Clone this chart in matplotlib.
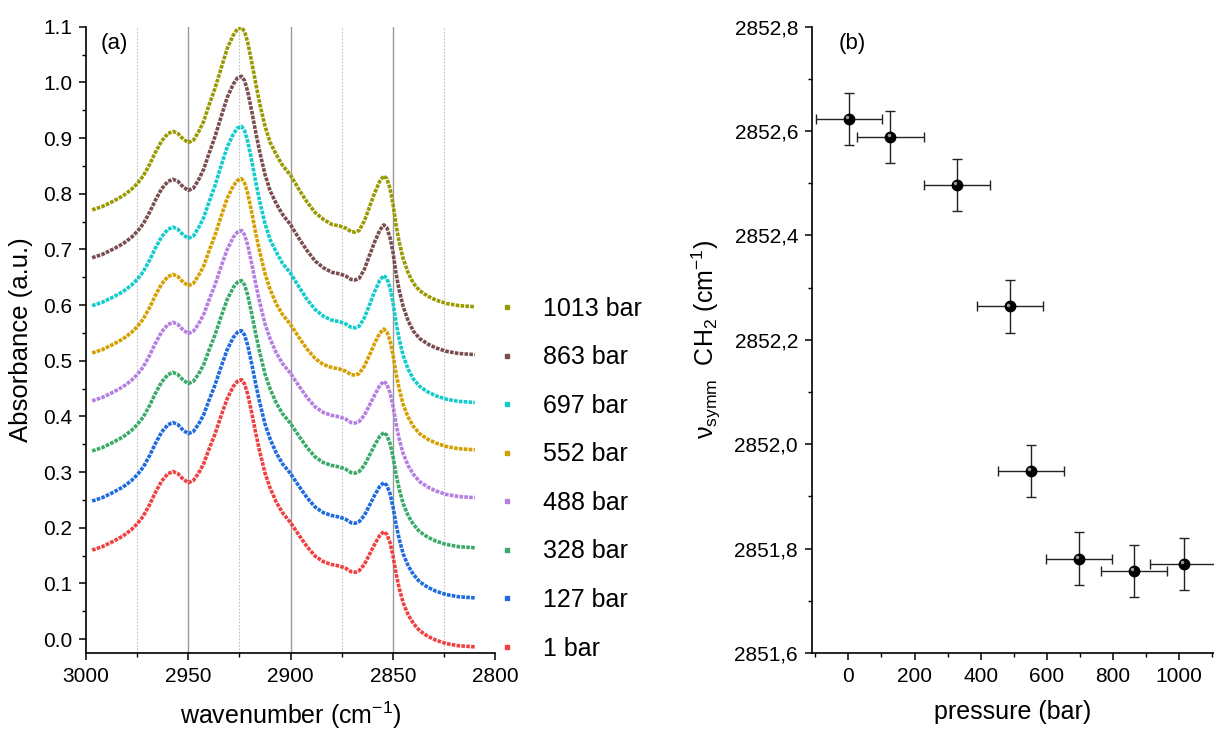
import numpy as np
import matplotlib
matplotlib.use("Agg")
import matplotlib.pyplot as plt
from matplotlib.lines import Line2D
from matplotlib.ticker import MultipleLocator, FormatStrFormatter
import matplotlib.transforms as mtransforms

plt.rcParams['font.family'] = ['Liberation Sans', 'DejaVu Sans']
plt.rcParams['mathtext.fontset'] = 'custom'
plt.rcParams['mathtext.rm'] = 'Liberation Sans'
plt.rcParams['mathtext.it'] = 'Liberation Sans:italic'

# ---- panel (a): spectra ----
wavenumber = [2997, 2992, 2987, 2982, 2978, 2975, 2972, 2969, 2966, 2963, 2960,
              2957.5, 2955, 2952.5, 2950, 2947.5, 2945, 2942.5, 2940, 2937, 2934,
              2931, 2928, 2926, 2924, 2922.5, 2921, 2919, 2917, 2915, 2912.5,
              2910, 2907, 2904, 2900, 2896, 2892, 2888, 2884, 2880, 2876, 2873,
              2870.5, 2868.5, 2866.5, 2864, 2861.5, 2859, 2856.5, 2854.5, 2853,
              2851.5, 2850, 2848.5, 2847, 2845, 2842.5, 2840, 2837, 2833, 2829,
              2824, 2818, 2810]

abs_1 = [0.160, 0.166, 0.175, 0.185, 0.196, 0.207, 0.221, 0.241, 0.264, 0.284, 0.297,
         0.301, 0.297, 0.287, 0.281, 0.285, 0.298, 0.315, 0.340, 0.368, 0.401,
         0.432, 0.454, 0.463, 0.466, 0.458, 0.440, 0.406, 0.369, 0.335, 0.298,
         0.271, 0.246, 0.227, 0.209, 0.187, 0.166, 0.149, 0.139, 0.134, 0.131, 0.127,
         0.121, 0.120, 0.123, 0.134, 0.152, 0.170, 0.186, 0.193, 0.188,
         0.174, 0.150, 0.118, 0.092, 0.065, 0.043, 0.028, 0.015, 0.005, -0.002,
         -0.008, -0.012, -0.014]
abs_127 = [0.248, 0.254, 0.263, 0.273, 0.284, 0.295, 0.309, 0.329, 0.352, 0.372, 0.385,
           0.389, 0.385, 0.375, 0.369, 0.373, 0.386, 0.403, 0.428, 0.456, 0.489,
           0.520, 0.542, 0.551, 0.554, 0.546, 0.528, 0.494, 0.457, 0.423, 0.386,
           0.359, 0.334, 0.315, 0.297, 0.275, 0.254, 0.237, 0.227, 0.222, 0.219, 0.215,
           0.209, 0.208, 0.211, 0.222, 0.240, 0.258, 0.274, 0.281, 0.276,
           0.262, 0.238, 0.206, 0.180, 0.153, 0.131, 0.116, 0.103, 0.093, 0.086,
           0.080, 0.076, 0.074]
abs_328 = [0.338, 0.344, 0.353, 0.363, 0.374, 0.385, 0.399, 0.419, 0.442, 0.462, 0.475,
           0.479, 0.475, 0.465, 0.459, 0.463, 0.476, 0.493, 0.518, 0.546, 0.579,
           0.610, 0.632, 0.641, 0.644, 0.636, 0.618, 0.584, 0.547, 0.513, 0.476,
           0.449, 0.424, 0.405, 0.387, 0.365, 0.344, 0.327, 0.317, 0.312, 0.309, 0.305,
           0.299, 0.298, 0.301, 0.312, 0.330, 0.348, 0.364, 0.371, 0.366,
           0.352, 0.328, 0.296, 0.270, 0.243, 0.221, 0.206, 0.193, 0.183, 0.176,
           0.170, 0.166, 0.164]
abs_488 = [0.428, 0.434, 0.443, 0.453, 0.464, 0.475, 0.489, 0.509, 0.532, 0.552, 0.565,
           0.569, 0.565, 0.555, 0.549, 0.553, 0.566, 0.583, 0.608, 0.636, 0.669,
           0.700, 0.722, 0.731, 0.734, 0.726, 0.708, 0.674, 0.637, 0.603, 0.566,
           0.539, 0.514, 0.495, 0.477, 0.455, 0.434, 0.417, 0.407, 0.402, 0.399, 0.395,
           0.389, 0.388, 0.391, 0.402, 0.420, 0.438, 0.455, 0.463, 0.458,
           0.443, 0.419, 0.387, 0.360, 0.333, 0.311, 0.296, 0.283, 0.273, 0.266,
           0.260, 0.256, 0.254]
abs_552 = [0.514, 0.520, 0.529, 0.539, 0.550, 0.561, 0.575, 0.595, 0.618, 0.638, 0.651,
           0.655, 0.651, 0.641, 0.635, 0.639, 0.653, 0.670, 0.696, 0.725, 0.759,
           0.792, 0.814, 0.824, 0.827, 0.819, 0.801, 0.766, 0.728, 0.694, 0.656,
           0.628, 0.602, 0.583, 0.565, 0.542, 0.521, 0.504, 0.493, 0.488, 0.485, 0.481,
           0.475, 0.474, 0.477, 0.490, 0.510, 0.531, 0.549, 0.557, 0.552,
           0.537, 0.511, 0.477, 0.450, 0.421, 0.398, 0.382, 0.369, 0.359, 0.352,
           0.346, 0.342, 0.340]
abs_697 = [0.599, 0.605, 0.614, 0.624, 0.635, 0.646, 0.660, 0.680, 0.703, 0.723, 0.736,
           0.740, 0.736, 0.726, 0.720, 0.724, 0.739, 0.757, 0.784, 0.814, 0.850,
           0.884, 0.907, 0.918, 0.921, 0.913, 0.894, 0.859, 0.820, 0.784, 0.746,
           0.717, 0.695, 0.675, 0.657, 0.633, 0.610, 0.592, 0.580, 0.573, 0.570, 0.566,
           0.560, 0.559, 0.562, 0.577, 0.600, 0.624, 0.644, 0.653, 0.648,
           0.632, 0.605, 0.569, 0.539, 0.509, 0.484, 0.467, 0.454, 0.444, 0.437,
           0.431, 0.427, 0.425]
abs_863 = [0.685, 0.691, 0.700, 0.710, 0.721, 0.732, 0.746, 0.766, 0.789, 0.809, 0.822,
           0.826, 0.822, 0.812, 0.806, 0.810, 0.825, 0.844, 0.871, 0.902, 0.938,
           0.973, 0.997, 1.008, 1.011, 1.003, 0.984, 0.948, 0.909, 0.873, 0.834,
           0.805, 0.782, 0.763, 0.744, 0.720, 0.698, 0.679, 0.667, 0.659, 0.656, 0.652,
           0.646, 0.645, 0.648, 0.664, 0.689, 0.713, 0.734, 0.744, 0.739,
           0.722, 0.695, 0.657, 0.627, 0.597, 0.571, 0.553, 0.540, 0.530, 0.523,
           0.517, 0.513, 0.511]
abs_1013 = [0.771, 0.777, 0.786, 0.796, 0.807, 0.818, 0.832, 0.852, 0.875, 0.895, 0.908,
            0.912, 0.908, 0.898, 0.892, 0.896, 0.911, 0.930, 0.958, 0.989, 1.025,
            1.061, 1.085, 1.096, 1.099, 1.091, 1.072, 1.036, 0.997, 0.960, 0.921,
            0.892, 0.870, 0.851, 0.833, 0.808, 0.785, 0.766, 0.754, 0.745, 0.742, 0.738,
            0.732, 0.731, 0.734, 0.751, 0.776, 0.801, 0.822, 0.832, 0.827,
            0.810, 0.782, 0.744, 0.714, 0.683, 0.657, 0.639, 0.626, 0.616, 0.609,
            0.603, 0.599, 0.597]

spectra = [abs_1, abs_127, abs_328, abs_488, abs_552, abs_697, abs_863, abs_1013]
labels = ['1 bar', '127 bar', '328 bar', '488 bar', '552 bar', '697 bar', '863 bar', '1013 bar']
colors = ['#F04040', '#1E6BE0', '#3AAA68', '#B47FE0', '#D4A000', '#12CCCC', '#7A4E50', '#999900']

# ---- panel (b): CH2 symmetric stretch vs pressure ----
pressure = [1, 127, 328, 488, 552, 697, 863, 1013]
nu_symm = [2852.623, 2852.589, 2852.497, 2852.264, 2851.949, 2851.781, 2851.757, 2851.771]
pressure_err = [100, 100, 100, 100, 100, 100, 100, 100]
nu_err = [0.05, 0.05, 0.05, 0.05, 0.05, 0.05, 0.05, 0.05]

W, H = 1214, 731
fig = plt.figure(figsize=(W / 100, H / 100), dpi=100)

def frac(x0, y0, x1, y1):
    return [x0 / W, 1 - y1 / H, (x1 - x0) / W, (y1 - y0) / H]

ax1 = fig.add_axes(frac(86, 26.7, 495.3, 653))
ax2 = fig.add_axes(frac(812, 26.7, 1214, 653))

for ax in (ax1, ax2):
    for s in ('top', 'right'):
        ax.spines[s].set_visible(False)
    for s in ('left', 'bottom'):
        ax.spines[s].set_linewidth(1.2)
    ax.tick_params(which='major', direction='out', length=5, width=1.1, labelsize=15, pad=5)
    ax.tick_params(which='minor', direction='out', length=3, width=1.0)

# grid lines in (a)
for g in (2950, 2900, 2850):
    ax1.axvline(g, color='#9a9a9a', lw=1.0, zorder=0)
for g in (2975, 2925, 2875, 2825):
    ax1.axvline(g, color='#c0c0c0', lw=0.8, ls=(0, (1.5, 1.5)), zorder=0)

for vals, c in zip(spectra, colors):
    ax1.plot(wavenumber, vals, color=c, lw=2.6, ls=(0, (1, 0.35)), dash_capstyle='butt')

ax1.set_xlim(3000, 2800)
ax1.set_ylim(-0.025, 1.1)
ax1.xaxis.set_major_locator(MultipleLocator(50))
ax1.xaxis.set_minor_locator(MultipleLocator(25))
ax1.yaxis.set_major_locator(MultipleLocator(0.1))
ax1.yaxis.set_minor_locator(MultipleLocator(0.05))
ax1.yaxis.set_major_formatter(FormatStrFormatter('%.1f'))
ax1.set_xlabel('wavenumber (cm$^{-1}$)', fontsize=18, labelpad=10)
ax1.set_ylabel('Absorbance (a.u.)', fontsize=18.5, labelpad=7)
ax1.text(0.035, 0.99, '(a)', transform=ax1.transAxes, fontsize=16, va='top', ha='left')

handles = [Line2D([], [], ls='none', marker='s', ms=3.2, color=c, mec=c) for c in colors]
fig.legend(handles[::-1], labels[::-1], loc='upper left',
           bbox_to_anchor=(494 / W, 1 - 297 / H), bbox_transform=fig.transFigure,
           frameon=False, fontsize=18, handlelength=1.0, handletextpad=0.95,
           labelspacing=0.98, borderpad=0, borderaxespad=0)

# panel (b)
ax2.errorbar(pressure, nu_symm, xerr=pressure_err, yerr=nu_err, fmt='none',
             ecolor='#222222', elinewidth=1.0, capsize=3.5, capthick=1.0, zorder=2)
ax2.plot(pressure, nu_symm, 'o', color='black', ms=7.5, zorder=3)
hl = mtransforms.offset_copy(ax2.transData, fig=fig, x=-1.2, y=1.2, units='points')
ax2.plot(pressure, nu_symm, 'o', color='#9a9a9a', ms=2.5, mew=0, transform=hl, zorder=4)

ax2.set_xlim(-110, 1105)
ax2.set_ylim(2851.6, 2852.8)
ax2.xaxis.set_major_locator(MultipleLocator(200))
ax2.xaxis.set_minor_locator(MultipleLocator(100))
ax2.yaxis.set_major_locator(MultipleLocator(0.2))
ax2.yaxis.set_minor_locator(MultipleLocator(0.1))
ax2.yaxis.set_major_formatter(plt.FuncFormatter(lambda v, p: ('%.1f' % v).replace('.', ',')))
ax2.set_xlabel('pressure (bar)', fontsize=18, labelpad=10)
ax2.set_ylabel('ν$_{\\mathregular{symm}}$  CH$_2$ (cm$^{-1}$)', fontsize=18, labelpad=8)
ax2.text(0.065, 0.99, '(b)', transform=ax2.transAxes, fontsize=16, va='top', ha='left')

fig.savefig('out.png', dpi=100)
